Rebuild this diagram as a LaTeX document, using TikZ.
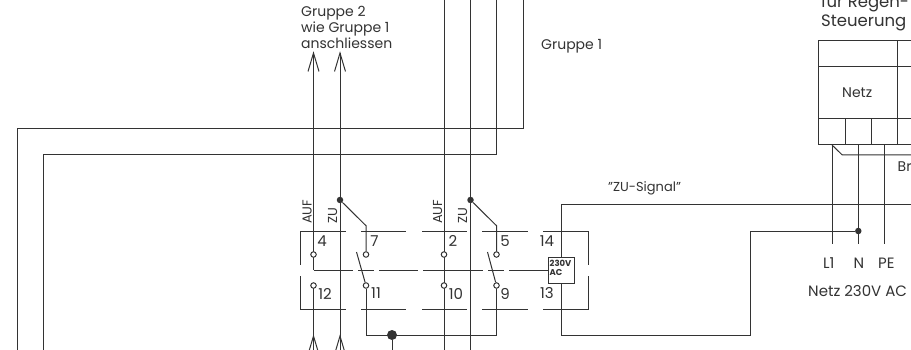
\documentclass[tikz,border=0pt]{standalone}
\usepackage{fontspec}
\setmainfont{Poppins}
\definecolor{ink}{HTML}{333333}
\tikzset{
  wire/.style={draw=ink,line width=1pt},
  lbl/.style={inner sep=0pt,text=ink,font=\fontsize{14}{16}\selectfont},
  base lbl/.style={lbl,anchor=base west},
  big lbl/.style={base lbl,font=\fontsize{15}{16}\selectfont},
  num/.style={lbl,font=\fontsize{15}{16}\selectfont},
  vert/.style={lbl,rotate=90,anchor=south west,font=\fontsize{13}{14}\selectfont},
  contact/.style={circle,draw=ink,fill=white,line width=1pt,minimum size=5.5pt,inner sep=0pt},
  junction/.style={circle,fill=ink,minimum size=6.5pt,inner sep=0pt},
  bigdot/.style={circle,fill=ink,minimum size=10pt,inner sep=0pt},
  openarrow/.style={draw=ink,line width=1pt},
  coil/.style={draw=ink,line width=1pt,fill=white,minimum width=26.5pt,minimum height=26pt,inner sep=0pt}
}
\begin{document}
\begin{tikzpicture}[x=1pt,y=-1pt]
\useasboundingbox (0,0) rectangle (911,350);
\clip (0,0) rectangle (911,350);
\fill[white] (0,0) rectangle (911,350);

% named points
\foreach \n/\x/\y in {
 a/313.5/53, b/340/53, aB/313.5/350, bB/340/350,
 c/444/0, cB/444/350, d/470.5/0, dB/470.5/350,
 e1/496.5/0, e2/496.5/155, e3/43.3/155, e4/43.3/350,
 f1/523/0, f2/523/128.7, f3/17/128.7, f4/17/350,
 k1/366/225.7, k2/496.5/225.7,
 m1/366/335, m2/496.5/335, m3/392/350,
 r1/911/205, r2/561.7/205, r3/561.7/335, r4/750/335, r5/750/231,
 t1/832/145, t2/858.3/145, t3/884/145, t1b/832/244, t2b/858.3/244, t3b/884/244,
 br1/842.3/155, br2/911/155}
 {\coordinate (\n) at (\x,\y);}

% long wires
\draw[wire] (a) -- (313.5,270);
\draw[wire] (313.5,285.5) -- (aB);
\draw[wire] (b) -- (bB);
\draw[wire] (c) -- (cB);
\draw[wire] (d) -- (dB);
\draw[wire] (e1) -- (e2) -- (e3) -- (e4);
\draw[wire] (f1) -- (f2) -- (f3) -- (f4);

% open arrows
\foreach \p in {a,b}{
  \draw[openarrow] (\p) ++(-5.5,18.5) -- (\p) -- ++(5.5,18.5);
}
\coordinate (a2) at (313.5,336); \coordinate (b2) at (340,336);
\foreach \p in {a2,b2}{
  \draw[openarrow] (\p) ++(-5.5,18.5) -- (\p) -- ++(5.5,18.5);
}

% dashed contactor frame
\foreach \xa/\xb in {300.5/345.5,361/406,422/467,482/528,543/588}{
  \draw[wire] (\xa,231) -- (\xb,231);
  \draw[wire] (\xa,309.5) -- (\xb,309.5);
}
\foreach \x in {300.5,588}{
  \draw[wire] (\x,231) -- (\x,264.5);
  \draw[wire] (\x,276) -- (\x,309.5);
}
% actuator line
\node[coil] (coil) at (561.7,270.5) {};
\foreach \xa/\xb in {313.5/353,358/374,379/418.3,423.3/483,488/504}{
  \draw[wire] (\xa,270) -- (\xb,270);
}
\coordinate (act) at (509,270);
\draw[wire] (act) -- (act-|coil.west);

% contacts
\node[contact] (c4) at (313.5,254.5) {};
\node[contact] (c12) at (313.5,285.5) {};
\node[contact] (c7) at (366,254.5) {};
\node[contact] (c11) at (366,285.5) {};
\node[contact] (c2) at (444,254.5) {};
\node[contact] (c10) at (444,285.5) {};
\node[contact] (c5) at (496.5,254.5) {};
\node[contact] (c9) at (496.5,285.5) {};
\node[junction] (j1) at (340,200) {};
\node[junction] (j2) at (470.5,200) {};
\node[bigdot] (big) at (392,335) {};
\node[junction] (jn) at (858.3,231) {};

\draw[wire] (j1) -- (k1) -- (c7);
\draw[wire] (j2) -- (k2) -- (c5);
\coordinate (b1) at (356.5,252); \coordinate (b2x) at (487.5,252);
\draw[wire] (c11) -- (b1);
\draw[wire] (c9) -- (b2x);
\draw[wire] (c11) -- (m1) -- (m2) -- (c9);
\draw[wire] (big) -- (m3);

% signal wires
\draw[wire] (r1) -- (r2) -- (coil.north-|r2);
\draw[wire] (coil.south-|r2) -- (r3) -- (r4) -- (r5) -- (jn);

% Netz block
\draw[wire] (911,40.7) -- (818.7,40.7) -- (818.7,145) -- (911,145);
\draw[wire] (818.7,66.7) -- (911,66.7);
\draw[wire] (818.7,118.7) -- (911,118.7);
\draw[wire] (897.3,40.7) -- (897.3,145);
\draw[wire] (845,118.7) -- (845,145);
\draw[wire] (871,118.7) -- (871,145);
\draw[wire] (t1) -- (t1b);
\draw[wire] (t2) -- (t2b);
\draw[wire] (t3) -- (t3b);
\draw[wire] (t1) -- (br1) -- (br2);

% texts
\node[base lbl] (t-g2a) at (301,17) {Gruppe 2};
\node[base lbl] (t-g2b) at (301,33) {wie Gruppe 1};
\node[base lbl] (t-g2c) at (301,49) {anschliessen};
\node[base lbl] (t-g1) at (541,50) {Gruppe 1};
\node[base lbl,font=\fontsize{13}{16}\selectfont] (t-zu) at (608,192) {"ZU-Signal"};
\node[base lbl,font=\fontsize{16.5}{18}\selectfont] (t-fr) at (821,7.5) {für Regen-};
\node[base lbl,font=\fontsize{16.5}{18}\selectfont] (t-st) at (821,26.5) {Steuerung};
\node[base lbl] (t-nz) at (842,98) {Netz};
\node[base lbl] (t-br) at (897.5,172) {Br};
\node[big lbl] (t-l1) at (823,268) {L1};
\node[big lbl] (t-n) at (853.5,268) {N};
\node[big lbl] (t-pe) at (878,268) {PE};
\node[big lbl] (t-na) at (808,296) {Netz 230V AC};

\node[vert] (v1) at (312,224) {AUF};
\node[vert] (v2) at (337.5,224) {ZU};
\node[vert] (v3) at (442.5,224) {AUF};
\node[vert] (v4) at (467.5,224) {ZU};

\node[num] (n4) at (322,241) {4};
\node[num] (n7) at (374.5,241) {7};
\node[num] (n12) at (325,293.5) {12};
\node[num] (n11) at (376,293.5) {11};
\node[num] (n2) at (453,241) {2};
\node[num] (n5) at (505,241) {5};
\node[num] (n10) at (456,293.5) {10};
\node[num] (n9) at (505,293.5) {9};
\node[num] (n14) at (547,241) {14};
\node[num] (n13) at (547,293.5) {13};

\node[lbl,font=\fontsize{8.5}{9}\selectfont\bfseries,align=left,anchor=north west] (v230) at (549.5,260) {230V\\[-0.5pt]AC};
\end{tikzpicture}
\end{document}
